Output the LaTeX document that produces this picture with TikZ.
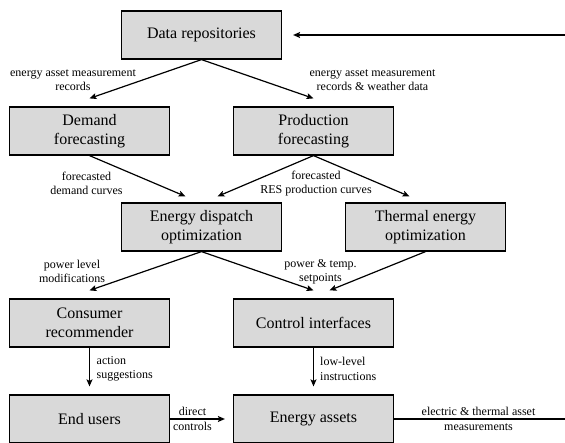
\documentclass[tikz,border=0pt]{standalone}
\usepackage{fontspec}
\setmainfont{Liberation Serif}
\newfontfamily\tnrfont{Liberation Serif}
\usetikzlibrary{arrows.meta}
\definecolor{boxgray}{HTML}{D9D9D9}
\begin{document}
\begin{tikzpicture}[x=1pt,y=-1pt,
  box/.style={draw=black, line width=1.2pt, fill=boxgray, minimum width=160pt, minimum height=48pt, align=center, font=\tnrfont\fontsize{16}{19}\selectfont, inner sep=0pt},
  lbl/.style={align=center, font=\tnrfont\fontsize{12}{14.4}\selectfont, inner sep=0pt},
  conn/.style={line width=1.2pt, -{Stealth[length=7pt,width=6pt,inset=1.5pt]}},
  plain/.style={line width=1.2pt}
]
\useasboundingbox (0,0) rectangle (565,442);
\clip (0,0) rectangle (565,442);

\node[box] (DR) at (201.5,35) {Data repositories};
\node[box] (DF) at (89.5,131) {Demand\\forecasting};
\node[box] (PF) at (313.5,131) {Production\\forecasting};
\node[box] (ED) at (201.5,227) {Energy dispatch\\optimization};
\node[box] (TE) at (425.5,227) {Thermal energy\\optimization};
\node[box] (CR) at (89.5,323) {Consumer\\recommender};
\node[box] (CI) at (313.5,323) {Control interfaces};
\node[box] (EU) at (89.5,419) {End users};
\node[box] (EA) at (313.5,419) {Energy assets};

\draw[conn] (DR.south) -- ([yshift=8pt]DF.north);
\draw[conn] (DR.south) -- ([yshift=8pt]PF.north);
\draw[conn] (DF.south) -- ([xshift=-16pt,yshift=6pt]ED.north);
\draw[conn] (PF.south) -- ([xshift=16pt,yshift=6pt]ED.north);
\draw[conn] (PF.south) -- ([xshift=-16pt,yshift=6pt]TE.north);
\draw[conn] (ED.south) -- ([yshift=8pt]CR.north);
\draw[conn] (ED.south) -- ([yshift=8pt]CI.north);
\draw[conn] (TE.south) -- ([xshift=16pt,yshift=8pt]CI.north);
\draw[conn] (CR.south) -- ([yshift=8pt]EU.north);
\draw[conn] (CI.south) -- ([yshift=8pt]EA.north);
\draw[conn] (EU.east) -- ([xshift=-8pt]EA.west);
\coordinate (fbR) at (575,419);
\coordinate (fbT) at (575,35);
\draw[conn] (EA.east) -- (fbR) -- (fbT) -- ([xshift=11pt]DR.east);

\node[lbl] (l1) at (73,80) {energy asset measurement\\records};
\node[lbl] (l2) at (372.5,80) {energy asset measurement\\records \& weather data};
\node[lbl] (l3) at (86.5,183.5) {forecasted\\demand curves};
\node[lbl] (l4) at (316,183.5) {forecasted\\RES production curves};
\node[lbl] (l5) at (72,271.5) {power level\\modifications};
\node[lbl] (l6) at (320.5,271.5) {power \& temp.\\setpoints};
\node[lbl, anchor=west, align=left] (l7) at (96.5,369) {action\\suggestions};
\node[lbl, anchor=west, align=left] (l8) at (320,369) {low-level\\instructions};
\node[lbl] (l9) at (192.5,419) {direct\\controls};
\node[lbl] (l10) at (478.5,419) {electric \& thermal asset\\measurements};
\end{tikzpicture}
\end{document}
